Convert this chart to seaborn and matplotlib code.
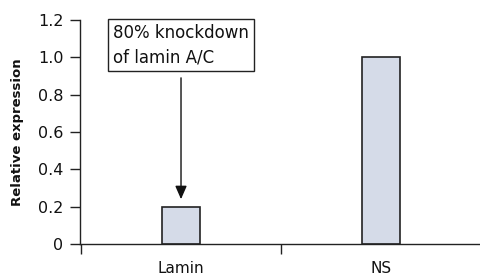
import numpy as np
import pandas as pd
import seaborn as sns
import matplotlib as mpl
from matplotlib import pyplot as plt

# data
groups = ["Lamin", "NS"]
expression = [0.2, 1.0]
y_ticks = [0, 0.2, 0.4, 0.6, 0.8, 1.0, 1.2]
y_tick_labels = ["0", "0.2", "0.4", "0.6", "0.8", "1.0", "1.2"]
note = "80% knockdown\nof lamin A/C"

sns.set_style("ticks")
plt.rcParams['font.family'] = ['DejaVu Sans']
mpl.rcParams['xtick.labelsize'] = 11
mpl.rcParams['ytick.labelsize'] = 11.5
mpl.rcParams['xtick.labelcolor'] = "#111111"
mpl.rcParams['ytick.labelcolor'] = "#111111"

df = pd.DataFrame({"group": groups, "expression": expression})

fig = plt.figure(figsize=(4.8, 2.8), dpi=100)
ax = fig.add_axes([0.1667, 0.1286, 0.8333, 0.80])

sns.barplot(data=df, x="group", y="expression", color="#d5dbe8",
            edgecolor="#222222", linewidth=1.2, width=0.19, saturation=1, ax=ax)

ax.set_xlim(-0.505, 1.495)
ax.set_ylim(0, 1.2)
ax.set_yticks(y_ticks)
ax.set_yticklabels(y_tick_labels)
ax.set_xlabel("")
ax.set_ylabel("Relative expression", fontsize=9.5, fontweight="bold",
              labelpad=10, color="#111111")

# category boundaries get the ticks, labels sit in between
ax.set_xticks([-0.5, 0.5], minor=True)
ax.tick_params(axis="x", which="major", length=0, pad=12)
ax.tick_params(axis="x", which="minor", length=7, width=1, color="#222222")
ax.tick_params(axis="y", length=7, width=1, color="#222222", pad=5)

sns.despine(ax=ax)
for side in ["left", "bottom"]:
    ax.spines[side].set_linewidth(1)
    ax.spines[side].set_color("#222222")

ax.text(-0.34, 1.066, note, ha="left", va="center", fontsize=12,
        linespacing=1.45, color="#111111",
        bbox=dict(boxstyle="square,pad=0.3", fc="white", ec="#222222", lw=1))
ax.annotate("", xy=(0, 0.24), xytext=(0, 0.89),
            arrowprops=dict(arrowstyle="-|>,head_length=0.8,head_width=0.35",
                            color="#111111", lw=1, shrinkA=0, shrinkB=0))

fig.savefig("out.png", dpi=100)
